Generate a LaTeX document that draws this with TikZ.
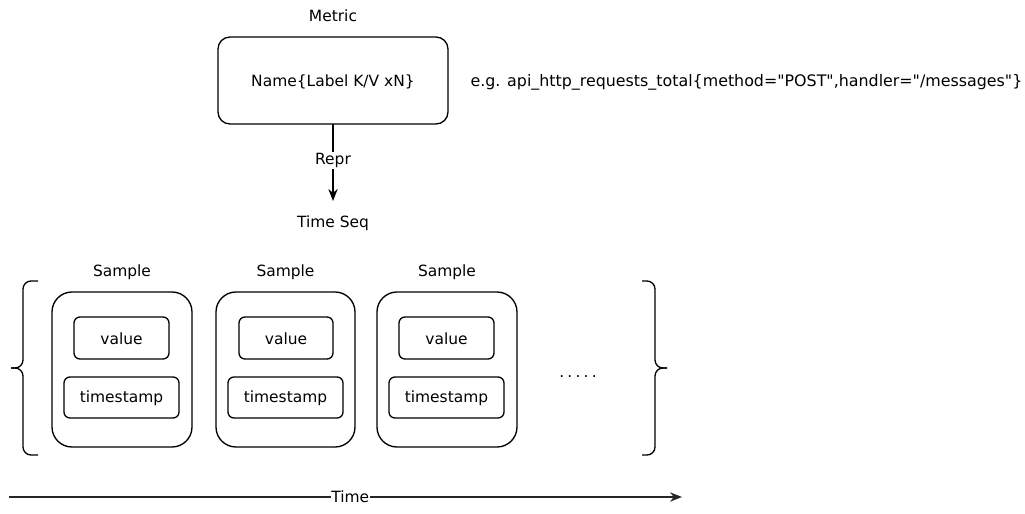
\documentclass[tikz,border=0pt]{standalone}
\usepackage{fontspec}
\setmainfont{DejaVu Sans}
\usetikzlibrary{arrows.meta}
\begin{document}
\begin{tikzpicture}[x=0.75pt,y=-0.75pt,
  txt/.style={font=\fontsize{11.6}{13}\selectfont, inner sep=1pt},
  bigbox/.style={draw, line width=1pt, rounded corners=9pt},
  smallbox/.style={draw, line width=1pt, rounded corners=4.5pt},
  samplebox/.style={draw, line width=1pt, rounded corners=15pt},
  arr/.style={-{Stealth[length=9pt,width=7pt]}, line width=1pt},
]
\useasboundingbox (0,0) rectangle (1025,514);
\node[txt] (metriclbl) at (333,16) {Metric};
\draw[bigbox] (218,37) rectangle (448,124);
\coordinate (mtop) at (333,37);
\coordinate (mbot) at (333,124);
\node[txt] (metric) at (333,82) {Name\{Label K/V xN\}};
\node[txt, anchor=west, font=\fontsize{11.9}{13}\selectfont] (eg) at (469,82) {e.g. api\_http\_requests\_total\{method=\textquotedbl POST\textquotedbl,handler=\textquotedbl/messages\textquotedbl\}};
\node[txt] (tseq) at (333,223) {Time Seq};
\coordinate (arrend) at (333,201);
\draw[arr] (mbot) -- node[txt, fill=white, pos=0.475] (repr) {Repr} (arrend);

\foreach \l/\r/\vl/\vr/\tl/\tr/\n in {52/192/74/169/64/179/1, 216/355/239/333/228/343/2, 377/517/399/494/389/504/3}{
  \pgfmathsetmacro{\cx}{(\l+\r)/2}
  \node[txt] (slbl\n) at (\cx,272) {Sample};
  \draw[samplebox] (\l,292) rectangle (\r,447);
  \draw[smallbox] (\vl,317) rectangle (\vr,359);
  \node[txt] (val\n) at ({(\vl+\vr)/2},339) {value};
  \draw[smallbox] (\tl,377) rectangle (\tr,418);
  \node[txt] (ts\n) at ({(\tl+\tr)/2},398.5) {timestamp};
}
\node[txt] (dots) at (578,377) {.\hspace{2.4pt}.\hspace{2.4pt}.\hspace{2.4pt}.\hspace{2.4pt}.};

% braces
\draw[line width=1pt, rounded corners=6pt] (38,281) -- (23,281) -- (23,368) -- (11,368);
\draw[line width=1pt, rounded corners=6pt] (38,455) -- (23,455) -- (23,368) -- (11,368);
\draw[line width=1pt, rounded corners=6pt] (642,281) -- (655,281) -- (655,368) -- (667,368);
\draw[line width=1pt, rounded corners=6pt] (642,455) -- (655,455) -- (655,368) -- (667,368);

% time axis
\coordinate (tstart) at (9,497);
\coordinate (tend) at (682,497);
\draw[arr, line width=1.3pt, color=black!85] (tstart) -- node[pos=0.507, txt, fill=white, inner sep=0.5pt, text=black] (time) {Time} (tend);
\end{tikzpicture}
\end{document}
